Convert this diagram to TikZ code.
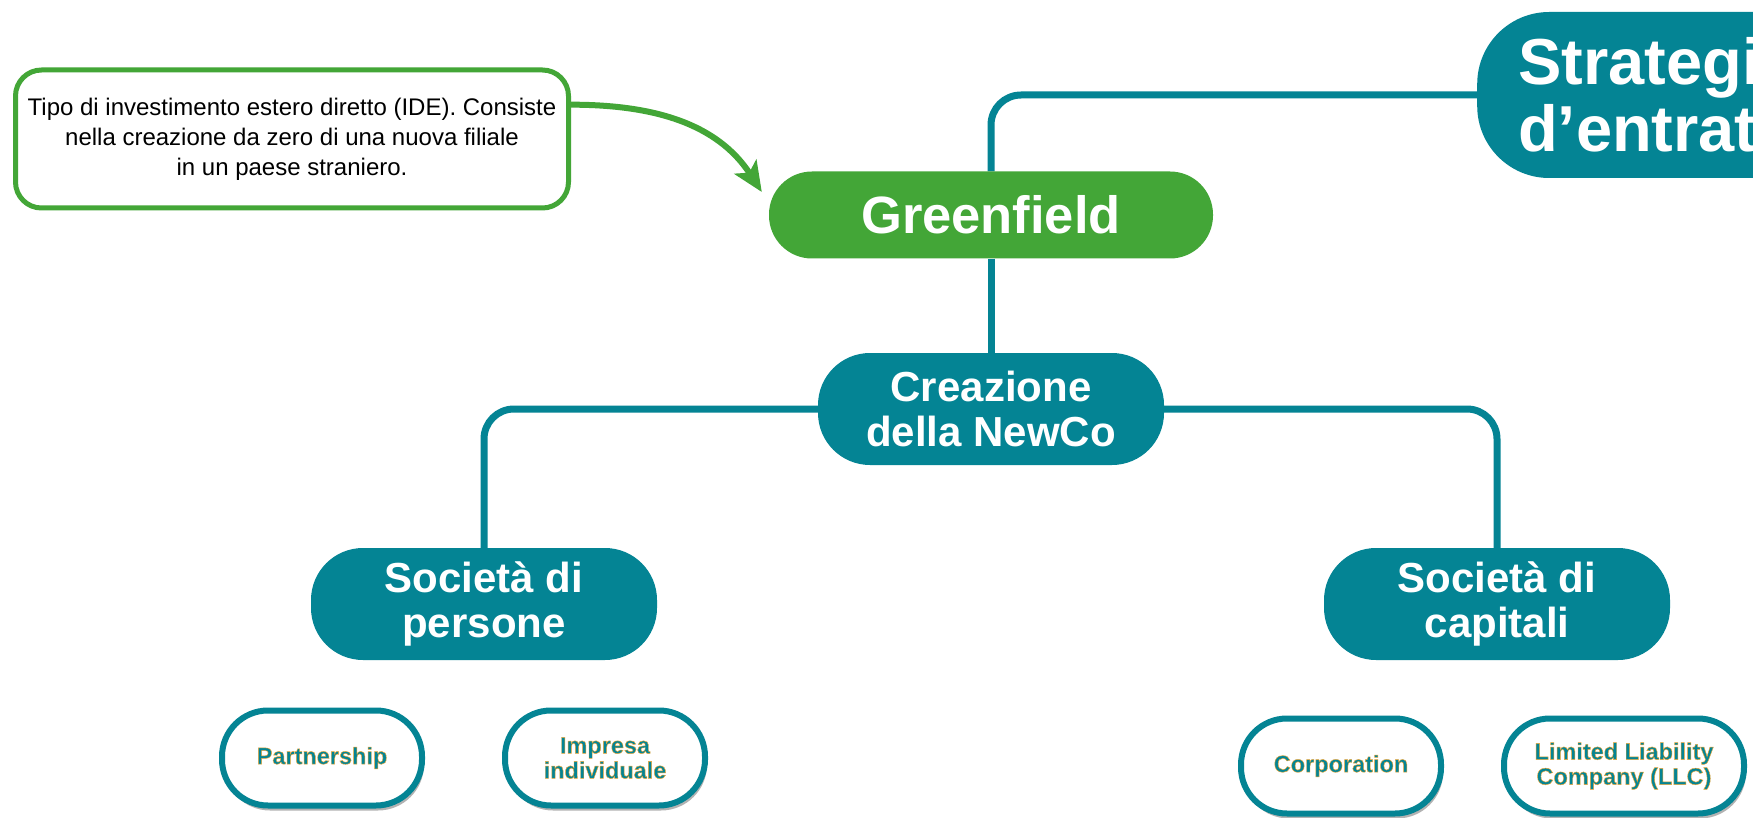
\documentclass[tikz,border=0pt]{standalone}
\usepackage{fontspec}
\setmainfont{Liberation Sans}
\usetikzlibrary{shadows,arrows.meta,calc,backgrounds}
\definecolor{mapteal}{HTML}{048494}
\definecolor{mapgreen}{HTML}{43A637}
% thin warm outline around the leaf labels (fill + stroke text render mode)
\newcommand\halotext[1]{\special{pdf:literal direct q 2 Tr 0.45 w 0.95 0.65 0.2 RG}#1\special{pdf:literal direct Q}}
\tikzset{
  hub/.style={fill=mapteal, text=white, align=center, inner sep=0pt,
    font=\bfseries\fontsize{42}{45}\selectfont,
    minimum width=346pt, minimum height=112pt, rounded corners=52pt},
  leaf/.style={draw=mapteal, line width=6pt, fill=white, text=mapteal,
    align=center, inner sep=0pt,
    font=\bfseries\fontsize{23.5}{25}\selectfont,
    minimum width=200pt, minimum height=95pt, rounded corners=46pt,
    drop shadow={shadow xshift=2pt, shadow yshift=-5pt, opacity=0.3, fill=black}},
  conn/.style={draw=mapteal, line width=7pt, rounded corners=30pt},
}
\begin{document}
\begin{tikzpicture}[x=1pt,y=-1pt]
\useasboundingbox (0,0) rectangle (1753,818);
\clip (0,0) rectangle (1753,818);

% note box
\node[draw=mapgreen, line width=5pt, fill=white, rounded corners=26pt,
      minimum width=553pt, minimum height=138pt, inner sep=0pt, align=center,
      font=\fontsize{24}{30}\selectfont] (note) at (292,139)
  {Tipo di investimento estero diretto (IDE). Consiste\\
   nella creazione da zero di una nuova filiale\\
   in un paese straniero.};

% main nodes
\node[fill=mapteal, text=white, anchor=west, align=left, inner xsep=41pt,
      minimum height=166pt, text width=420pt, rounded corners=72pt,
      font=\bfseries\fontsize{65}{67}\selectfont] (strat) at (1477,95)
  {Strategie\\d’entrata};
\node[fill=mapgreen, text=white, inner sep=0pt, minimum width=444pt,
      minimum height=87pt, rounded corners=43pt,
      font=\bfseries\fontsize{52.5}{56}\selectfont] (green) at (991,215) {Greenfield};
\node[hub] (crea) at (991,409) {Creazione\\della NewCo};
\node[hub] (sper) at (484,604) {Società di\\persone};
\node[hub] (scap) at (1497,604) {Società di\\capitali};

% leaves
\node[leaf] (part) at (322,758) {\halotext{Partnership}};
\node[leaf] (impr) at (605,758) {\halotext{Impresa}\\\halotext{individuale}};
\node[leaf] (corp) at (1341,766) {\halotext{Corporation}};
\node[leaf, minimum width=240pt] (llc) at (1624,766)
  {\halotext{Limited Liability}\\\halotext{Company (LLC)}};

% connectors, kept behind the nodes
\begin{scope}[on background layer]
\fill[white] (0,0) rectangle (1753,818);
\draw[conn] (green.north) |- (strat.west);
\draw[conn] (green.south) -- (crea.north);
\draw[conn] (crea.west) -| (sper.north);
\draw[conn] (crea.east) -| (scap.north);
\end{scope}

% arrow from note
\draw[draw=mapgreen, line width=6pt,
      -{Stealth[length=30pt, width=26pt, inset=7pt]}]
  ($(note.north east)!0.26!(note.south east)$)
  to[out=0, in=123] ($(green.west)+(-7,-23)$);
\end{tikzpicture}
\end{document}
